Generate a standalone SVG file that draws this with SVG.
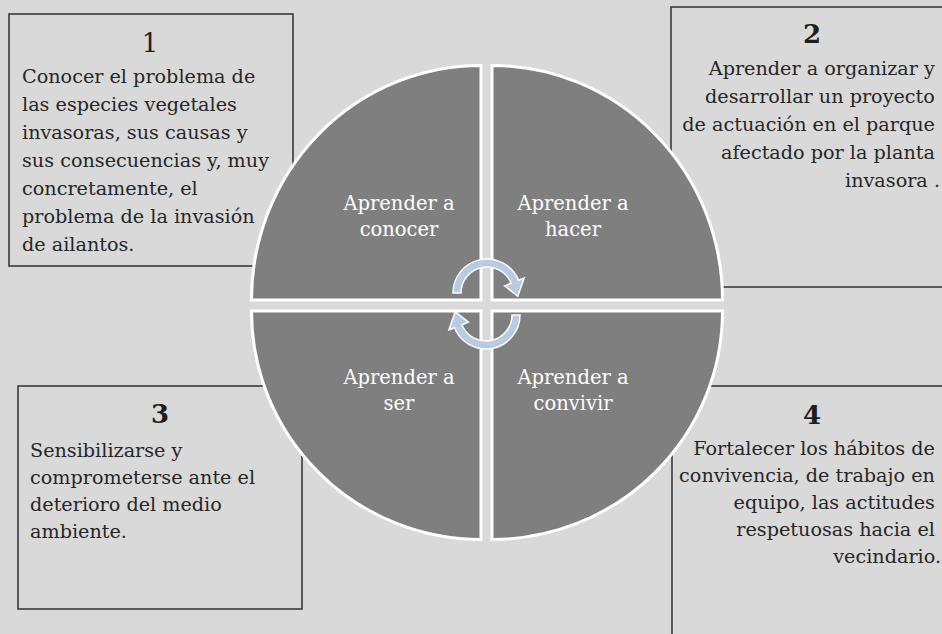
<svg xmlns="http://www.w3.org/2000/svg" width="942" height="634" viewBox="0 0 942 634">
<style>
.box{fill:none;stroke:#3a3a3a;stroke-width:1.6}
.num{font-family:"DejaVu Serif","Liberation Serif",serif;font-size:26px;fill:#1e1e1e;text-anchor:middle}
.txt{font-family:"DejaVu Serif","Liberation Serif",serif;font-size:19.2px;fill:#262626}
.quad{fill:#7f7f7f;stroke:#ffffff;stroke-width:3}
.lbl{font-family:"DejaVu Serif","Liberation Serif",serif;font-size:19.5px;fill:#ffffff;text-anchor:middle}
.arr{fill:#b9cbe3;stroke:#ffffff;stroke-width:1.5}
</style>
<defs>
<path id="circ-arrow" d="M453,293 A34,34 0 0 1 518.52,280.26 L524.09,278.02 L517.83,296.24 L504.62,285.88 L511.11,283.26 A26,26 0 0 0 461,293 Z"/>
</defs>
<rect width="942" height="634" fill="#d9d9d9"/>
<g id="box1">
<rect class="box" x="9" y="14" width="284" height="252"/>
<text class="num" x="150" y="52">1</text>
<text class="txt" x="22">
<tspan x="22" y="83">Conocer el problema de</tspan>
<tspan x="22" y="111">las especies vegetales</tspan>
<tspan x="22" y="139">invasoras, sus causas y</tspan>
<tspan x="22" y="167">sus consecuencias y, muy</tspan>
<tspan x="22" y="195">concretamente, el</tspan>
<tspan x="22" y="223">problema de la invasión</tspan>
<tspan x="22" y="251">de ailantos.</tspan>
</text>
</g>
<g id="box2">
<rect class="box" x="671" y="7" width="300" height="280"/>
<text class="num" x="812" y="43" font-weight="bold">2</text>
<text class="txt" text-anchor="end">
<tspan x="941" y="75">Aprender a organizar y</tspan>
<tspan x="941" y="103">desarrollar un proyecto</tspan>
<tspan x="941" y="131">de actuación en el parque</tspan>
<tspan x="941" y="159">afectado por la planta</tspan>
<tspan x="940" y="187">invasora .</tspan>
</text>
</g>
<g id="box3">
<rect class="box" x="18" y="386" width="284" height="223"/>
<text class="num" x="160" y="423" font-weight="bold">3</text>
<text class="txt">
<tspan x="30" y="457">Sensibilizarse y</tspan>
<tspan x="30" y="484">comprometerse ante el</tspan>
<tspan x="30" y="511">deterioro del medio</tspan>
<tspan x="30" y="538">ambiente.</tspan>
</text>
</g>
<g id="box4">
<rect class="box" x="672" y="386" width="300" height="280"/>
<text class="num" x="812" y="424" font-weight="bold">4</text>
<text class="txt" text-anchor="end">
<tspan x="941" y="455">Fortalecer los hábitos de</tspan>
<tspan x="941" y="482">convivencia, de trabajo en</tspan>
<tspan x="941" y="509">equipo, las actitudes</tspan>
<tspan x="941" y="536">respetuosas hacia el</tspan>
<tspan x="941" y="563">vecindario.</tspan>
</text>
</g>
<g id="q-conocer">
<path class="quad" d="M481,300 L251.5,300 A229.5,234.5 0 0 1 481,65.5 Z"/>
<text class="lbl" x="399" y="210">Aprender a</text>
<text class="lbl" x="399" y="236">conocer</text>
</g>
<g id="q-hacer">
<path class="quad" d="M492,300 L492,65.5 A230.5,234.5 0 0 1 722.5,300 Z"/>
<text class="lbl" x="573" y="210">Aprender a</text>
<text class="lbl" x="573" y="236">hacer</text>
</g>
<g id="q-ser">
<path class="quad" d="M481,311 L481,539.5 A229.5,228.5 0 0 1 251.5,311 Z"/>
<text class="lbl" x="399" y="384">Aprender a</text>
<text class="lbl" x="399" y="410">ser</text>
</g>
<g id="q-convivir">
<path class="quad" d="M492,311 L722.5,311 A230.5,228.5 0 0 1 492,539.5 Z"/>
<text class="lbl" x="573" y="384">Aprender a</text>
<text class="lbl" x="573" y="410">convivir</text>
</g>
<g id="connectors">
<use id="arrow-top" class="arr" href="#circ-arrow"/>
<use id="arrow-bottom" class="arr" href="#circ-arrow" transform="rotate(180 486.5 304)"/>
</g>
</svg>
